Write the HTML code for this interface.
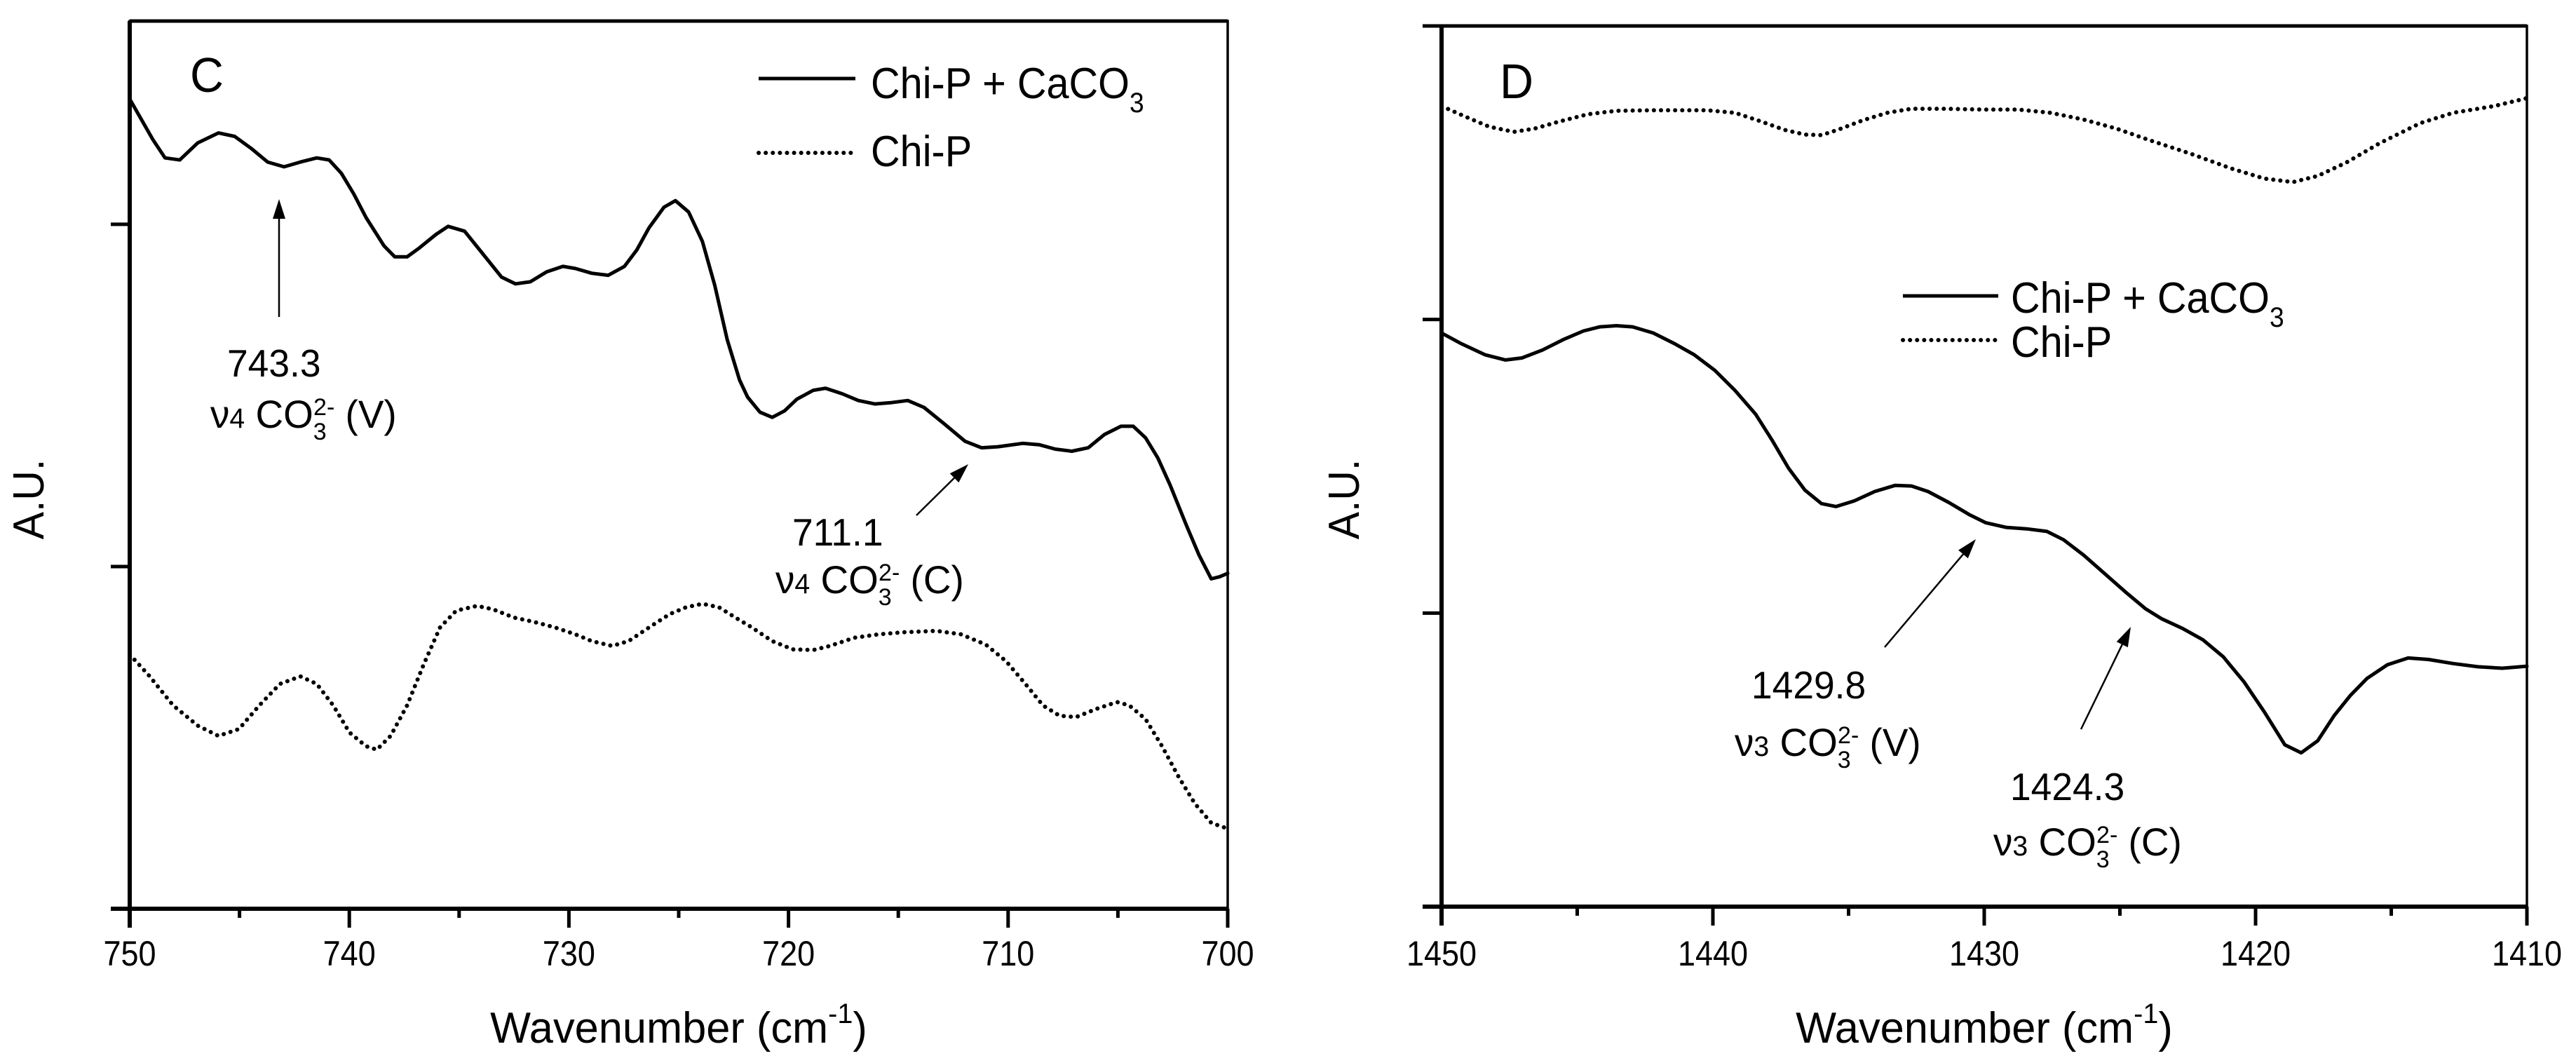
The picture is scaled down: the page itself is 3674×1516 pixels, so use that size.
<!DOCTYPE html>
<html><head><meta charset="utf-8"><style>
html,body{margin:0;padding:0;background:#fff;}
svg{display:block;font-family:"Liberation Sans",Arial,sans-serif;}
</style></head><body>
<svg id="chart" width="3674" height="1516" viewBox="0 0 3674 1516" xmlns="http://www.w3.org/2000/svg"></svg>
<script>
// Panel C data
const cWnSolid=[750.0,748.95,748.39,747.72,746.90,745.96,745.22,744.47,743.72,742.97,742.23,741.48,740.92,740.36,739.80,739.24,738.42,737.93,737.37,736.81,736.06,735.50,734.75,734.01,733.07,732.44,731.76,731.02,730.27,729.71,728.96,728.21,727.47,726.91,726.35,725.67,725.15,724.55,723.92,723.36,722.79,722.23,721.86,721.30,720.74,720.18,719.62,718.87,718.31,717.56,716.82,716.07,715.32,714.57,713.83,712.89,711.96,711.21,710.46,709.34,708.59,707.85,707.10,706.35,705.61,704.86,704.30,703.74,703.18,702.62,701.87,701.31,700.75,700.37,700.0];
const cValSolid=[2.366,2.248,2.194,2.188,2.238,2.267,2.257,2.222,2.182,2.168,2.182,2.194,2.188,2.149,2.089,2.020,1.937,1.905,1.905,1.931,1.970,1.994,1.980,1.921,1.846,1.826,1.832,1.861,1.877,1.871,1.857,1.851,1.877,1.925,1.990,2.050,2.069,2.036,1.950,1.822,1.663,1.545,1.495,1.451,1.436,1.455,1.489,1.515,1.521,1.505,1.485,1.475,1.479,1.485,1.465,1.416,1.366,1.347,1.350,1.360,1.356,1.343,1.337,1.347,1.386,1.410,1.410,1.376,1.317,1.238,1.119,1.034,0.964,0.970,0.980];
const cWnDot=[750.0,749.14,748.02,746.90,745.96,745.03,744.10,743.16,742.23,741.48,740.73,739.99,739.24,738.75,738.12,737.37,736.62,735.87,735.13,734.19,733.45,732.51,731.58,730.64,729.71,728.96,728.03,727.28,726.35,725.41,724.66,723.92,723.17,722.42,721.67,720.74,719.81,718.87,718.12,717.00,715.88,714.76,713.27,712.15,711.02,710.09,709.16,708.41,707.66,706.91,705.98,705.04,704.48,703.74,702.99,702.24,701.49,700.75,700.0];
const cValDot=[0.743,0.683,0.594,0.535,0.505,0.525,0.594,0.657,0.679,0.657,0.594,0.515,0.475,0.465,0.505,0.594,0.713,0.822,0.871,0.885,0.875,0.851,0.838,0.822,0.802,0.782,0.768,0.782,0.822,0.861,0.881,0.891,0.881,0.851,0.822,0.782,0.758,0.756,0.768,0.792,0.802,0.808,0.812,0.802,0.772,0.723,0.653,0.594,0.564,0.560,0.584,0.604,0.594,0.554,0.475,0.386,0.307,0.251,0.234];
const cXTicks=[750,740,730,720,710,700];
// Panel D data
const dWnSolid=[1450.0,1449.30,1448.40,1447.64,1447.04,1446.28,1445.53,1444.77,1444.16,1443.56,1442.96,1442.20,1441.44,1440.69,1439.93,1439.18,1438.42,1437.82,1437.21,1436.61,1436.00,1435.46,1434.79,1434.04,1433.28,1432.68,1432.07,1431.31,1430.56,1429.95,1429.20,1428.44,1427.69,1427.08,1426.33,1425.57,1424.81,1424.06,1423.45,1422.70,1421.94,1421.19,1420.43,1419.67,1418.92,1418.32,1417.71,1417.10,1416.50,1415.90,1415.14,1414.38,1413.63,1412.72,1411.81,1410.91,1410.0];
const dValSolid=[1.954,1.919,1.880,1.862,1.869,1.896,1.931,1.961,1.975,1.979,1.975,1.954,1.919,1.880,1.827,1.758,1.677,1.589,1.493,1.419,1.373,1.363,1.382,1.414,1.435,1.433,1.414,1.377,1.336,1.308,1.292,1.287,1.278,1.250,1.197,1.135,1.073,1.015,0.980,0.948,0.909,0.851,0.766,0.662,0.551,0.524,0.565,0.651,0.720,0.777,0.824,0.847,0.842,0.828,0.817,0.812,0.819];
const dWnDot=[1450,1449.15,1448.25,1447.34,1446.58,1445.68,1444.62,1443.56,1442.05,1440.23,1439.18,1438.27,1437.36,1436.61,1436.00,1435.40,1434.49,1433.58,1432.68,1431.47,1429.95,1428.75,1427.54,1426.33,1425.12,1423.91,1422.40,1420.88,1419.67,1418.62,1417.71,1416.65,1415.44,1413.93,1412.72,1411.21,1410];
const dValDot=[2.727,2.692,2.657,2.639,2.650,2.674,2.699,2.711,2.713,2.713,2.704,2.676,2.646,2.630,2.628,2.646,2.678,2.704,2.718,2.718,2.715,2.715,2.704,2.681,2.650,2.611,2.565,2.514,2.480,2.468,2.489,2.535,2.600,2.669,2.704,2.727,2.754];
const dXTicks=[1450,1440,1430,1420,1410];

const NS="http://www.w3.org/2000/svg";
const svg=document.getElementById('chart');
function mk(tag,attrs,parent){const e=document.createElementNS(NS,tag);for(const k in attrs)e.setAttribute(k,attrs[k]);(parent||svg).appendChild(e);return e;}
function txt(parent,x,y,size,anchor,content,sx){
  const g=mk('g',{transform:`translate(${x},${y}) scale(${sx||0.86},1)`},parent);
  const t=mk('text',{x:0,y:0,'font-size':size,'text-anchor':anchor||'start',fill:'#000'},g);
  t.innerHTML=content;return g;
}
const CO3=(sz)=>`CO<tspan font-size="${sz*0.62}" dy="${sz*0.3}">3</tspan><tspan font-size="${sz*0.62}" dx="-${sz*0.34}" dy="-${sz*0.62}">2-</tspan><tspan dy="${sz*0.32}"> </tspan>`;

function panel(o){
  const g=mk('g',{});
  
  
  const X=v=>o.x0+(o.xmax-v)/(o.xmax-o.xmin)*(o.x1-o.x0);
  const Y=v=>o.yb-(v/o.ymax)*(o.yb-o.yt);
  function line(wn,val,dotted,name){
    let d='';for(let i=0;i<wn.length;i++)d+=(i?'L':'M')+X(wn[i]).toFixed(1)+','+Y(val[i]).toFixed(1);
    const p=mk('path',{d:d,fill:'none',stroke:'#000','stroke-width':dotted?6:5,'stroke-linejoin':'round','stroke-linecap':'round','stroke-dasharray':dotted?'0.1,10':'none'},g);
    
    
  }
  line(o.ws,o.vs,false,'chi-p-caco3-line');
  line(o.wd,o.vd,true,'chi-p-line');
  const fr=mk('rect',{x:o.x0,y:o.yt,width:o.x1-o.x0,height:o.yb-o.yt,fill:'none',stroke:'#000','stroke-width':3.5},g);
  
  
  mk('line',{x1:o.x0-27,y1:o.yb,x2:o.x1,y2:o.yb,stroke:'#000','stroke-width':6},g);
  mk('line',{x1:o.x0,y1:o.yt,x2:o.x0,y2:o.yb+27,stroke:'#000','stroke-width':6},g);
  mk('line',{x1:o.x0,y1:o.yt,x2:o.x1,y2:o.yt,stroke:'#000','stroke-width':5},g);
  o.ticks.forEach((t,i)=>{
    const x=X(t);
    mk('line',{x1:x,y1:o.yb,x2:x,y2:o.yb+27,stroke:'#000','stroke-width':5},g);
    const lb=txt(g,x,1377,50,'middle',String(t),0.9);
    
    
    if(i<o.ticks.length-1){const xm=X(t-5);mk('line',{x1:xm,y1:o.yb,x2:xm,y2:o.yb+13,stroke:'#000','stroke-width':5},g);}
  });
  o.yticks.forEach(v=>{const y=Y(v);mk('line',{x1:o.x0-27,y1:y,x2:o.x0,y2:y,stroke:'#000','stroke-width':5},g);});
  const xt=txt(g,(o.x0+o.x1)/2,1487,62,'middle','Wavenumber (cm<tspan font-size="40" dy="-28">-1</tspan><tspan dy="28">)</tspan>',0.99);
  
  
  const yt=mk('g',{transform:`translate(${o.ytx},712) rotate(-90)`},g);
  
  
  txt(yt,0,0,62,'middle','A.U.',0.95);
  return {g,X,Y};
}

const C=panel({name:'panel-c',x0:185,x1:1751,yt:30,yb:1296,xmin:700,xmax:750,ymax:2.594,ws:cWnSolid,vs:cValSolid,wd:cWnDot,vd:cValDot,ticks:cXTicks,yticks:[0,1,2],ytx:62});
const D=panel({name:'panel-d',x0:2056,x1:3604,yt:37,yb:1293,xmin:1410,xmax:1450,ymax:3.0,ws:dWnSolid,vs:dValSolid,wd:dWnDot,vd:dValDot,ticks:dXTicks,yticks:[0,1,2,3],ytx:1938});

function legend(g,x1,x2,y1,y2,tx,b1,b2){
  const lg=mk('g',{},g);
  
  
  mk('line',{x1:x1,y1:y1,x2:x2,y2:y1,stroke:'#000','stroke-width':5},lg);
  mk('line',{x1:x1,y1:y2,x2:x2,y2:y2,stroke:'#000','stroke-width':6,'stroke-dasharray':'0.1,10','stroke-linecap':'round'},lg);
  txt(lg,tx,b1,62,'start','Chi-P + CaCO<tspan font-size="40" dy="20">3</tspan>',0.93);
  txt(lg,tx,b2,62,'start','Chi-P',0.93);
}
legend(C.g,1082,1220,112,218,1242,140,237);
legend(D.g,2714,2850,422,485,2868,446,509);

const pc=txt(C.g,271,131,70,'start','C',0.95);


const pd=txt(D.g,2139,140,70,'start','D',0.95);



function arrow(g,x1,y1,x2,y2){
  const a=mk('g',{},g);
  
  
  const ang=Math.atan2(y2-y1,x2-x1),L=28,W=9;
  const bx=x2-L*Math.cos(ang),by=y2-L*Math.sin(ang);
  mk('line',{x1:x1,y1:y1,x2:bx,y2:by,stroke:'#000','stroke-width':2.5},a);
  const px=-Math.sin(ang)*W,py=Math.cos(ang)*W;
  mk('polygon',{points:`${x2},${y2} ${bx+px},${by+py} ${bx-px},${by-py}`,fill:'#000'},a);
}
function annot(g,x,y1,y2,num,mode,band){
  const a=mk('g',{},g);
  
  
  txt(a,x+24,y1,55,'start',num,0.97);
  txt(a,x,y2,56,'start',`ν<tspan font-size="40">${mode}</tspan> `+CO3(56)+band,0.98);
}
arrow(C.g,398,452,398,284);
annot(C.g,300,537,610,'743.3','4','(V)');
arrow(C.g,1307,735,1381,662);
annot(C.g,1106,778,846,'711.1','4',' (C)');
arrow(D.g,2688,923,2818,769);
annot(D.g,2474,996,1078,'1429.8','3','(V)');
arrow(D.g,2968,1040,3039,894);
annot(D.g,2843,1141,1220,'1424.3','3','(C)');
</script>
</body></html>
